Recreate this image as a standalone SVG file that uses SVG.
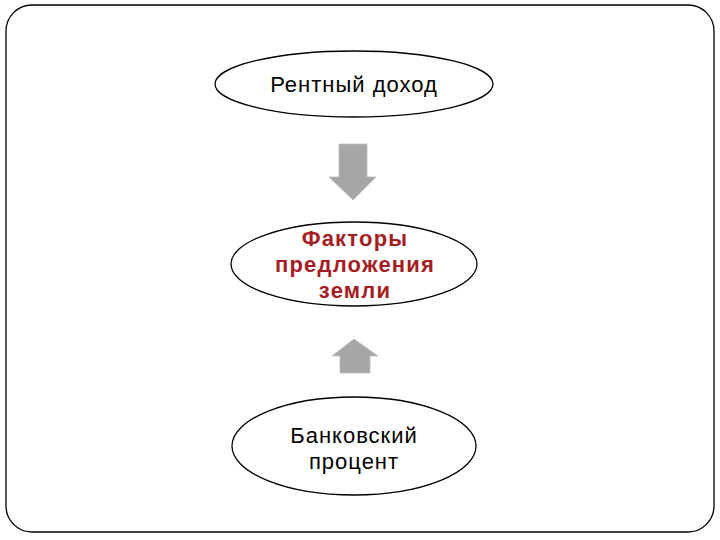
<svg xmlns="http://www.w3.org/2000/svg" width="720" height="540" viewBox="0 0 720 540">
<style>
.node{fill:#fff;stroke:#000;stroke-width:1.3}
.t{font-family:"Liberation Sans",Arial,sans-serif;font-size:22px;letter-spacing:1px;fill:#000;text-anchor:middle}
.r{font-family:"Liberation Sans",Arial,sans-serif;font-size:22px;letter-spacing:1.2px;font-weight:bold;fill:#A51E24;text-anchor:middle}
.arr{fill:#A6A6A6;stroke:#BFBFBF;stroke-width:0.8}
</style>
<rect x="0" y="0" width="720" height="540" fill="#fff"/>
<rect x="6" y="5" width="708" height="527" rx="26" ry="26" fill="none" stroke="#000" stroke-width="1.3"/>
<g id="connectors">
<path class="arr" d="M339,144 H367 V177 H376 L353,200 L329,177 H339 Z"/>
<path class="arr" d="M340,373 V356 H332 L354,339 L378,356 H370 V373 Z"/>
</g>
<g id="n1">
<ellipse class="node" cx="354" cy="84" rx="139" ry="33"/>
<text class="t" x="354" y="92">Рентный доход</text>
</g>
<g id="n2">
<ellipse class="node" cx="354" cy="264" rx="123" ry="42"/>
<text class="r" x="355" y="246">Факторы</text>
<text class="r" x="355" y="272">предложения</text>
<text class="r" x="355" y="298">земли</text>
</g>
<g id="n3">
<ellipse class="node" cx="354" cy="446" rx="122" ry="49"/>
<text class="t" x="354" y="443">Банковский</text>
<text class="t" x="354" y="469">процент</text>
</g>
</svg>
